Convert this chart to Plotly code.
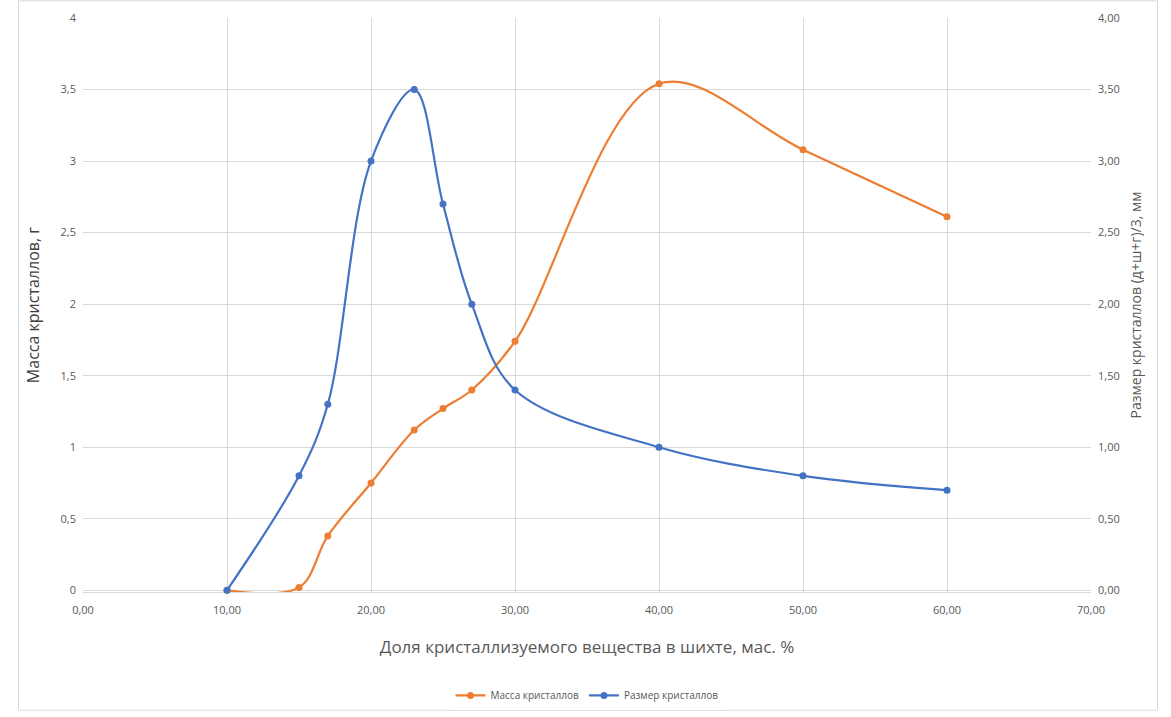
import plotly.graph_objects as go

# Доля кристаллизуемого вещества, мас. %
share_mass = [10, 15, 17, 20, 23, 25, 27, 30, 40, 50, 60]
mass_g = [0.0, 0.02, 0.38, 0.75, 1.12, 1.27, 1.40, 1.74, 3.54, 3.08, 2.61]

share_size = [10, 15, 17, 20, 23, 25, 27, 30, 40, 50, 60]
size_mm = [0.0, 0.80, 1.30, 3.00, 3.50, 2.70, 2.00, 1.40, 1.00, 0.80, 0.70]

ORANGE = "#ED7D31"
BLUE = "#4472C4"
GRID = "#D9D9D9"
TICK = "#595959"
FONT = "Open Sans"

# небольшой запас снизу, чтобы сглаженная линия у нуля не обрезалась
Y_RANGE = [-0.012, 4]

fig = go.Figure()
fig.add_trace(go.Scatter(
    x=share_mass, y=mass_g, name="Масса кристаллов",
    mode="lines+markers", line=dict(color=ORANGE, width=2.2, shape="spline", smoothing=1.0),
    marker=dict(color=ORANGE, size=7, symbol="circle"),
    yaxis="y", cliponaxis=False,
))
fig.add_trace(go.Scatter(
    x=share_size, y=size_mm, name="Размер кристаллов",
    mode="lines+markers", line=dict(color=BLUE, width=2.2, shape="spline", smoothing=1.0),
    marker=dict(color=BLUE, size=7, symbol="circle"),
    yaxis="y2", cliponaxis=False,
))

fig.update_layout(
    width=1171, height=717,
    margin=dict(l=83, r=80, t=18, b=125, autoexpand=False),
    paper_bgcolor="white", plot_bgcolor="white",
    separators=", ",
    font=dict(family=FONT, color=TICK),
    showlegend=True,
    legend=dict(orientation="h", x=0.5, xanchor="center", y=-0.155, yanchor="top",
                font=dict(size=10, color=TICK), traceorder="normal"),
    xaxis=dict(
        range=[0, 70], dtick=10, tick0=0, tickformat=".2f",
        showgrid=True, gridcolor=GRID, gridwidth=1, zeroline=False,
        showline=True, linecolor=GRID, linewidth=1, layer="below traces",
        ticks="", tickfont=dict(size=11, color=TICK), ticklabelstandoff=8,
        automargin=False,
        title=dict(text="Доля кристаллизуемого вещества в шихте, мас. %",
                   font=dict(size=17, color=TICK), standoff=24),
    ),
    yaxis=dict(
        range=Y_RANGE, dtick=0.5, tick0=0,
        showgrid=True, gridcolor=GRID, gridwidth=1, zeroline=False,
        showline=False, ticks="", tickfont=dict(size=11, color=TICK),
        ticklabelstandoff=6, automargin=False, layer="below traces",
        title=dict(text="Масса кристаллов, г", font=dict(size=16, color="#404040"), standoff=16),
    ),
    yaxis2=dict(
        range=Y_RANGE, dtick=0.5, tick0=0, tickformat=".2f",
        overlaying="y", side="right", showgrid=False, zeroline=False,
        showline=False, ticks="", tickfont=dict(size=11, color=TICK),
        ticklabelstandoff=6, automargin=False,
        title=dict(text="Размер кристаллов (д+ш+г)/3, мм", font=dict(size=14, color=TICK), standoff=12),
    ),
)

# Рамка области диаграммы
fig.add_shape(type="rect", xref="paper", yref="paper",
              x0=-0.064, x1=1.066, y0=-0.206, y1=1.03,
              line=dict(color="#D9D9D9", width=1), layer="below")

fig.write_html("out.html")
